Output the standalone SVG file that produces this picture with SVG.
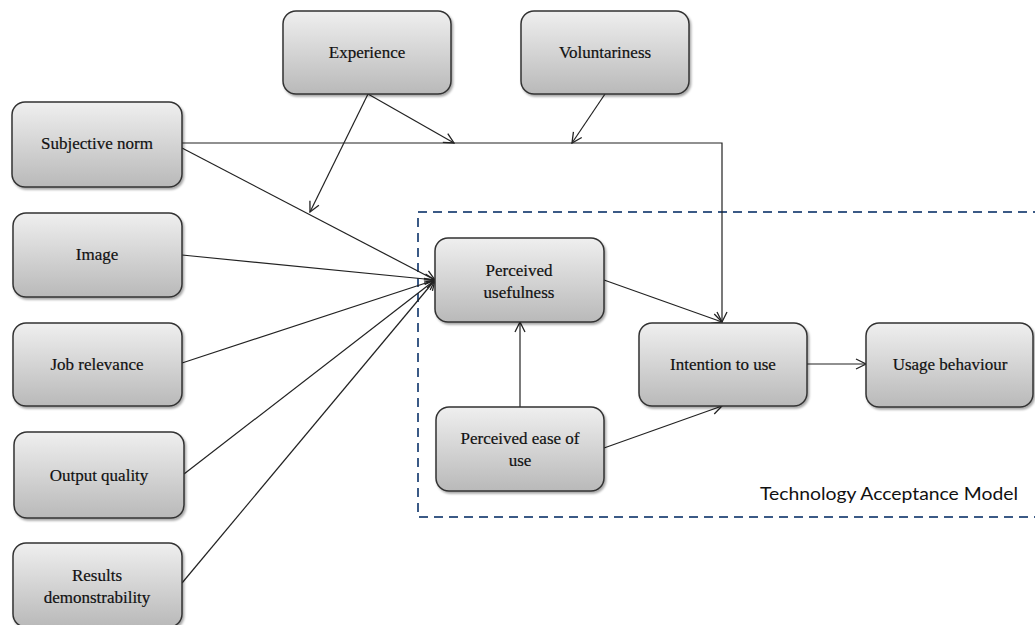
<svg xmlns="http://www.w3.org/2000/svg" width="1035" height="625" viewBox="0 0 1035 625">
<defs>
<linearGradient id="g" x1="0" y1="0" x2="0" y2="1">
<stop offset="0" stop-color="#efefef"/>
<stop offset="1" stop-color="#b9b9b9"/>
</linearGradient>
<filter id="sh" x="-10%" y="-10%" width="130%" height="130%">
<feDropShadow dx="1.5" dy="2" stdDeviation="1.2" flood-color="#000" flood-opacity="0.35"/>
</filter>
<marker id="a" viewBox="0 0 12 12" refX="11" refY="6" markerWidth="12" markerHeight="12" markerUnits="userSpaceOnUse" orient="auto">
<path d="M1,1 L11,6 L1,11" fill="none" stroke="#222" stroke-width="1.3"/>
</marker>
</defs>
<style>
.box{fill:url(#g);stroke:#333;stroke-width:1.5;filter:url(#sh)}
.t{font-family:"Liberation Serif","Times New Roman",serif;font-size:17px;fill:#111;text-anchor:middle;stroke:#111;stroke-width:0.2}
.c{fill:none;stroke:#222;stroke-width:1.2}
.dash{fill:none;stroke:#3b5a86;stroke-width:2;stroke-dasharray:9,6}
</style>
<rect width="1035" height="625" fill="#fff"/>
<rect class="dash" x="418" y="212" width="640" height="305"/>
<text x="889" y="500" font-family="Lato,'Open Sans',sans-serif" font-size="17" fill="#111" text-anchor="middle" textLength="258" lengthAdjust="spacingAndGlyphs">Technology Acceptance Model</text>
<g id="connectors">
<polyline class="c" points="182,143 722,143 722,322" marker-end="url(#a)"/>
<line class="c" x1="368" y1="94" x2="454" y2="143" marker-end="url(#a)"/>
<line class="c" x1="368" y1="94" x2="310" y2="212" marker-end="url(#a)"/>
<line class="c" x1="605" y1="94" x2="572" y2="143" marker-end="url(#a)"/>
<line class="c" x1="182" y1="148" x2="435" y2="280" marker-end="url(#a)"/>
<line class="c" x1="182" y1="255" x2="435" y2="280" marker-end="url(#a)"/>
<line class="c" x1="182" y1="363" x2="435" y2="280" marker-end="url(#a)"/>
<line class="c" x1="184" y1="474" x2="435" y2="280" marker-end="url(#a)"/>
<line class="c" x1="182" y1="583" x2="435" y2="280" marker-end="url(#a)"/>
<line class="c" x1="604" y1="280" x2="722" y2="322" marker-end="url(#a)"/>
<line class="c" x1="520" y1="407" x2="520" y2="322" marker-end="url(#a)"/>
<line class="c" x1="604" y1="448" x2="722" y2="406" marker-end="url(#a)"/>
<line class="c" x1="807" y1="364" x2="866" y2="364" marker-end="url(#a)"/>
</g>
<g id="experience"><rect class="box" x="283" y="11" width="168" height="83" rx="13"/><text class="t" x="367" y="58">Experience</text></g>
<g id="voluntariness"><rect class="box" x="521" y="11" width="168" height="83" rx="13"/><text class="t" x="605" y="58">Voluntariness</text></g>
<g id="subjective-norm"><rect class="box" x="12" y="102" width="170" height="85" rx="13"/><text class="t" x="97" y="149">Subjective  norm</text></g>
<g id="image"><rect class="box" x="13" y="213" width="169" height="84" rx="13"/><text class="t" x="97" y="260">Image</text></g>
<g id="job-relevance"><rect class="box" x="13" y="323" width="169" height="83" rx="13"/><text class="t" x="97" y="370">Job relevance</text></g>
<g id="output-quality"><rect class="box" x="14" y="432" width="170" height="86" rx="13"/><text class="t" x="99" y="481">Output quality</text></g>
<g id="results-demonstrability"><rect class="box" x="13" y="543" width="169" height="84" rx="13"/><text class="t" x="97" y="581">Results</text><text class="t" x="97" y="603">demonstrability</text></g>
<g id="perceived-usefulness"><rect class="box" x="435" y="238" width="169" height="84" rx="13"/><text class="t" x="519" y="276">Perceived</text><text class="t" x="519" y="298">usefulness</text></g>
<g id="perceived-ease-of-use"><rect class="box" x="436" y="407" width="168" height="84" rx="13"/><text class="t" x="520" y="444">Perceived ease of</text><text class="t" x="520" y="466">use</text></g>
<g id="intention-to-use"><rect class="box" x="639" y="323" width="168" height="83" rx="13"/><text class="t" x="723" y="370">Intention  to use</text></g>
<g id="usage-behaviour"><rect class="box" x="866" y="323" width="167" height="84" rx="13"/><text class="t" x="950" y="370">Usage  behaviour</text></g>
</svg>
